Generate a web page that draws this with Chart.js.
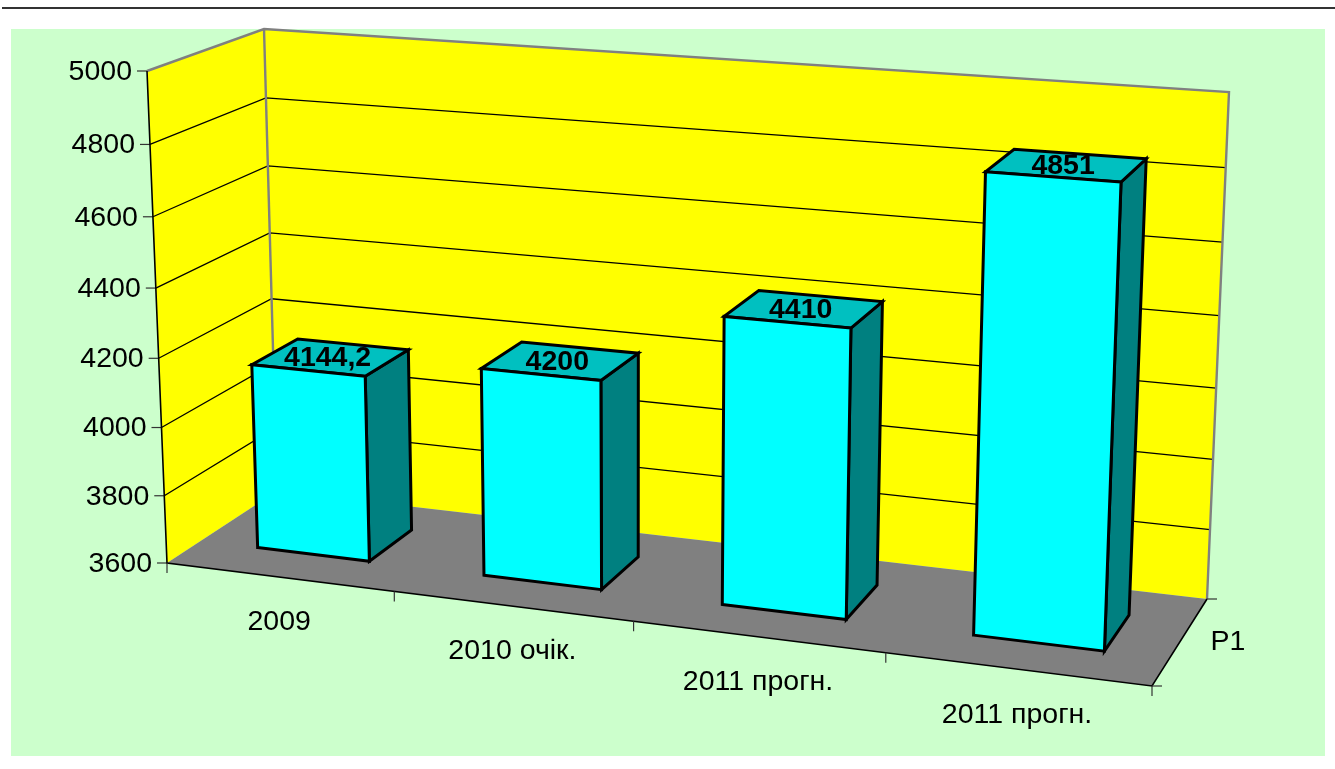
<!DOCTYPE html>
<html>
<head>
<meta charset="utf-8">
<style>
  html, body { margin: 0; padding: 0; background: #fff; }
  canvas { display: block; }
</style>
<script src="https://cdn.jsdelivr.net/npm/chart.js@4"></script>
</head>
<body>
<canvas id="chart" width="1335" height="769"></canvas>
<script>
const categories = ["2009", "2010 очік.", "2011 прогн.", "2011 прогн."];
const values = [4144.2, 4200, 4410, 4851];
const seriesName = "P1";
const axisMin = 3600;
const axisMax = 5000;
const axisStep = 200;

// screen corners of the 3D box: floor first, then top
const floorBox = { fl: [167, 563], fr: [1152, 686], bl: [277, 491], br: [1207, 599] };
const topBox = { fl: [147, 71], fr: [1173, 144], bl: [264, 29], br: [1229, 92] };
const barDepth = [0.31, 0.73];
const barNudge = 0.002; // bars sit a hair right of the category centre
const font = "'Liberation Sans', Arial, sans-serif";

// perspective foreshortening along one axis
const warp = (t, k) => (t * k) / (1 - t + t * k);

function mix(a, b, t) {
  return [a[0] + (b[0] - a[0]) * t, a[1] + (b[1] - a[1]) * t];
}

// u along categories, v along values, w into the depth, all 0..1
function project(u, v, w) {
  const uu = warp(u, 0.9);
  const vv = warp(v, 0.95);
  const bottom = mix(mix(floorBox.fl, floorBox.fr, uu), mix(floorBox.bl, floorBox.br, uu), w);
  const top = mix(mix(topBox.fl, topBox.fr, uu), mix(topBox.bl, topBox.br, uu), w);
  return mix(bottom, top, vv);
}

function poly(ctx, pts, fill, stroke, lw) {
  ctx.beginPath();
  pts.forEach((p, i) => (i ? ctx.lineTo(p[0], p[1]) : ctx.moveTo(p[0], p[1])));
  if (fill) {
    ctx.closePath();
    ctx.fillStyle = fill;
    ctx.fill();
  }
  if (stroke) {
    ctx.strokeStyle = stroke;
    ctx.lineWidth = lw;
    ctx.stroke();
  }
}

const box3d = {
  id: "box3d",
  beforeDraw(chart) {
    const ctx = chart.ctx;
    ctx.fillStyle = "#fff";
    ctx.fillRect(0, 0, chart.width, chart.height);
    ctx.fillStyle = "#CCFFCC";
    ctx.fillRect(11, 29, 1314, 727);
    ctx.fillStyle = "#333";
    ctx.fillRect(2, 7, 1333, 2);
  },
  afterDatasetsDraw(chart) {
    const ctx = chart.ctx;
    const area = chart.chartArea;
    const xs = chart.scales.x;
    const ys = chart.scales.y;
    const toU = px => (px - area.left) / area.width;
    const toV = px => (area.bottom - px) / area.height;
    ctx.save();
    ctx.lineJoin = "miter";

    // walls and floor
    poly(ctx, [project(0, 0, 0), project(0, 1, 0), project(0, 1, 1), project(0, 0, 1)], "#FFFF00");
    poly(ctx, [project(0, 0, 1), project(0, 1, 1), project(1, 1, 1), project(1, 0, 1)], "#FFFF00");
    poly(ctx, [project(0, 0, 0), project(1, 0, 0), project(1, 0, 1), project(0, 0, 1)], "#808080");

    // gridlines and value ticks
    ctx.font = "28.5px " + font;
    ys.ticks.forEach(t => {
      const v = toV(ys.getPixelForValue(t.value));
      if (t.value > axisMin && t.value < axisMax) {
        poly(ctx, [project(0, v, 0), project(0, v, 1), project(1, v, 1)], null, "#000", 1.3);
      }
      const p = project(0, v, 0);
      poly(ctx, [[p[0] - 10, p[1]], p], null, "#333", 1.2);
      ctx.fillStyle = "#000";
      ctx.textAlign = "right";
      ctx.textBaseline = "middle";
      ctx.fillText(String(t.value), p[0] - 15, p[1] + 1);
    });

    // wall outlines
    poly(ctx, [project(0, 1, 0), project(0, 1, 1), project(1, 1, 1), project(1, 0, 1)], null, "#808080", 2.4);
    poly(ctx, [project(0, 1, 1), project(0, 0, 1)], null, "#808080", 2.4);

    // axis lines
    poly(ctx, [project(0, 1, 0), project(0, 0, 0), project(1, 0, 0), project(1, 0, 1)], null, "#000", 1.6);
    categories.forEach((c, i) => {
      const half = (xs.getPixelForValue(1) - xs.getPixelForValue(0)) / 2;
      const p = project(toU(xs.getPixelForValue(i) - half), 0, 0);
      poly(ctx, [p, [p[0], p[1] + 10]], null, "#333", 1.2);
      const mid = project(toU(xs.getPixelForValue(i)), 0, 0);
      ctx.fillStyle = "#000";
      ctx.textAlign = "center";
      ctx.textBaseline = "middle";
      ctx.fillText(c, mid[0], mid[1] + 45.5);
    });
    const fr = project(1, 0, 0);
    const br = project(1, 0, 1);
    poly(ctx, [fr, [fr[0], fr[1] + 10]], null, "#333", 1.2);
    poly(ctx, [fr, [fr[0] + 10, fr[1]]], null, "#333", 1.2);
    poly(ctx, [br, [br[0] + 10, br[1]]], null, "#333", 1.2);
    const serMid = project(1, 0, 0.5);
    ctx.textAlign = "left";
    ctx.fillText(seriesName, serMid[0] + 31, serMid[1]);

    // bars, read back from the chart's own bar elements
    chart.getDatasetMeta(0).data.forEach((bar, i) => {
      const u0 = toU(bar.x - bar.width / 2) + barNudge;
      const u1 = toU(bar.x + bar.width / 2) + barNudge;
      const v = toV(bar.y);
      const [w0, w1] = barDepth;
      const bl = project(u0, 0, w0), br0 = project(u1, 0, w0), brb = project(u1, 0, w1);
      const tl = project(u0, v, w0), tr = project(u1, v, w0), trb = project(u1, v, w1), tlb = project(u0, v, w1);
      poly(ctx, [br0, brb, trb, tr], "#008080", "#000", 3);
      poly(ctx, [tl, tr, trb, tlb], "#00C0C0", "#000", 3);
      poly(ctx, [bl, br0, tr, tl], "#00FFFF", "#000", 3);
    });

    // value labels on the bar tops
    ctx.font = "bold 28.5px " + font;
    ctx.textAlign = "center";
    ctx.textBaseline = "middle";
    ctx.fillStyle = "#000";
    chart.getDatasetMeta(0).data.forEach((bar, i) => {
      const p = project(toU(bar.x), toV(bar.y), (barDepth[0] + barDepth[1]) / 2);
      ctx.fillText(String(values[i]).replace(".", ","), p[0] - 1, p[1] + 1);
    });
    ctx.restore();
  }
};

new Chart(document.getElementById("chart"), {
  type: "bar",
  data: {
    labels: categories,
    datasets: [{
      label: seriesName,
      data: values,
      backgroundColor: "transparent",
      borderWidth: 0,
      barPercentage: 0.5,
      categoryPercentage: 1
    }]
  },
  options: {
    responsive: false,
    animation: false,
    layout: { padding: { left: 150, right: 150, top: 70, bottom: 200 } },
    plugins: { legend: { display: false }, tooltip: { enabled: false } },
    scales: {
      x: { display: false },
      y: { display: false, min: axisMin, max: axisMax, ticks: { stepSize: axisStep } }
    }
  },
  plugins: [box3d]
});
</script>
</body>
</html>
